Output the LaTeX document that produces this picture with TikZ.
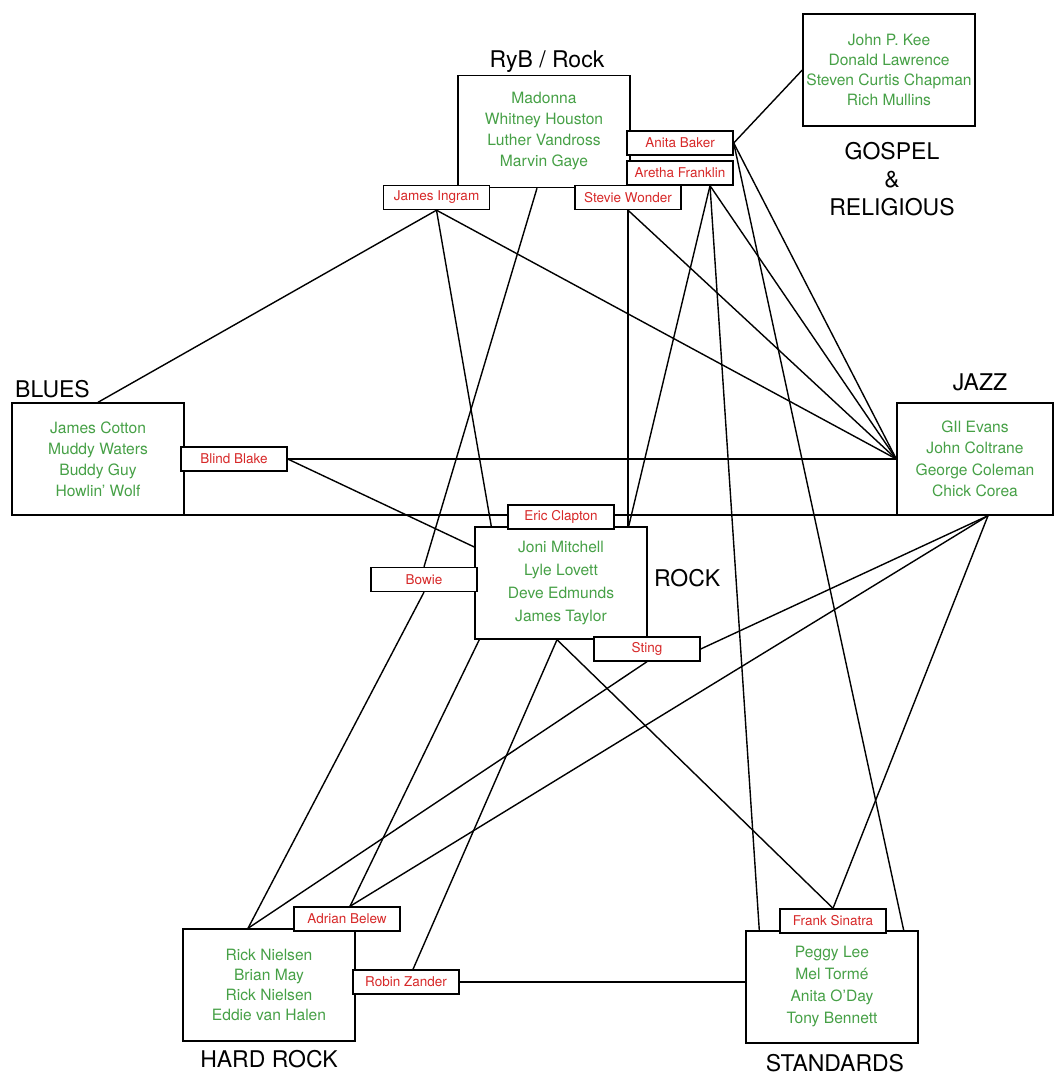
\documentclass[tikz,border=0pt]{standalone}
\usepackage{fontspec}
\setmainfont{TeX Gyre Heros}
\usetikzlibrary{calc}
\definecolor{grn}{RGB}{70,160,70}
\definecolor{rd}{RGB}{215,40,40}
\pgfdeclarelayer{bg}
\pgfsetlayers{bg,main}
\begin{document}
\begin{tikzpicture}[x=1pt,y=-1pt,
 genre/.style={draw, line width=1.4pt, minimum width=172pt, minimum height=112pt, inner sep=0pt, align=center, text=grn, font=\fontsize{15.6}{21}\selectfont},
 artist/.style={draw, fill=white, line width=1.4pt, minimum width=106pt, minimum height=24pt, inner sep=0pt, text=rd, font=\fontsize{13.5}{16}\selectfont},
 ttl/.style={font=\fontsize{23}{28}\selectfont, inner sep=0pt, align=center},
 link/.style={line width=1.4pt}]
\useasboundingbox (0,0) rectangle (1055,1076);
% genre boxes
\node[genre] (ryb) at (544,131.5) {Madonna\\Whitney Houston\\Luther Vandross\\Marvin Gaye};
\node[genre, font=\fontsize{15.6}{20}\selectfont] (gos) at (889,70) {John P. Kee\\Donald Lawrence\\Steven Curtis Chapman\\Rich Mullins};
\node[genre] (blues) at (98,459) {James Cotton\\Muddy Waters\\Buddy Guy\\Howlin' Wolf};
\node[genre, minimum width=156pt, font=\fontsize{15.6}{21.5}\selectfont] (jazz) at (975,459) {GIl Evans\\John Coltrane\\George Coleman\\Chick Corea};
\node[genre, font=\fontsize{15.6}{23}\selectfont] (rock) at (561,583) {Joni Mitchell\\Lyle Lovett\\Deve Edmunds\\James Taylor};
\node[genre, font=\fontsize{15.6}{20}\selectfont] (hr) at (269,985) {Rick Nielsen\\Brian May\\Rick Nielsen\\Eddie van Halen};
\node[genre, font=\fontsize{15.6}{22}\selectfont] (std) at (832,987) {Peggy Lee\\Mel Tormé\\Anita O'Day\\Tony Bennett};
% titles
\node[ttl, anchor=base] (tryb) at (547,67) {RyB / Rock};
\node[ttl] (tgos) at (892,179) {GOSPEL\\\&\\RELIGIOUS};
\node[ttl, anchor=base west] (tblues) at (15,397) {BLUES};
\node[ttl, anchor=base] (tjazz) at (980,390) {JAZZ};
\node[ttl, anchor=base west] (trock) at (654,586) {ROCK};
\node[ttl, anchor=base] (thr) at (269,1067) {HARD ROCK};
\node[ttl, anchor=base] (tstd) at (835,1071) {STANDARDS};
% artist boxes
\node[artist] (ab) at (680,143) {Anita Baker};
\node[artist] (af) at (680,173) {Aretha Franklin};
\node[artist] (ji) at (436.5,197.5) {James Ingram};
\node[artist] (sw) at (628,197.5) {Stevie Wonder};
\node[artist] (bb) at (234,459) {Blind Blake};
\node[artist] (ec) at (561,517) {Eric Clapton};
\node[artist] (bw) at (424,579.5) {Bowie};
\node[artist] (st) at (647,649) {Sting};
\node[artist] (abw) at (347,919) {Adrian Belew};
\node[artist] (rz) at (406,982) {Robin Zander};
\node[artist] (fs) at (833,921) {Frank Sinatra};
% connectors
\begin{pgfonlayer}{bg}
\draw[link] (ab.east) -- (gos.west);
\draw[link] (ab.east) -- (jazz.west);
\draw[link] (ab.east) -- ([xshift=-15pt]std.north east);
\draw[link] ([xshift=30pt]af.south) -- ([xshift=-19pt]rock.north east);
\draw[link] ([xshift=30pt]af.south) -- (jazz.west);
\draw[link] ([xshift=30pt]af.south) -- ([xshift=14pt]std.north west);
\draw[link] (sw.south) -- (sw.south |- rock.north);
\draw[link] (sw.south) -- (jazz.west);
\draw[link] (ji.south) -- (blues.north);
\draw[link] (ji.south) -- ([xshift=17pt]rock.north west);
\draw[link] (ji.south) -- (jazz.west);
\draw[link] ([xshift=-7pt]ryb.south) -- (bw.north);
\draw[link] (bw.south) -- ([xshift=-21pt]hr.north);
\draw[link] (bb.east) -- (jazz.west);
\draw[link] (bb.east) -- ([yshift=36pt]rock.west);
\draw[link, line width=2pt] ([yshift=1pt]blues.south east) -- ([yshift=1pt]blues.south east -| ec.west);
\draw[link, line width=2pt] ([yshift=1pt]ec.east |- jazz.south west) -- ([yshift=1pt]jazz.south west);
\draw[link] ([xshift=5pt]rock.south west) -- ([xshift=3pt]abw.north);
\draw[link] ([xshift=13pt]jazz.south) -- ([xshift=3pt]abw.north);
\draw[link] ([xshift=-4pt]rock.south) -- ([xshift=7pt]rz.north);
\draw[link] ([xshift=-4pt]rock.south) -- (fs.north);
\draw[link] ([xshift=13pt]jazz.south) -- (fs.north);
\draw[link] ([xshift=13pt]jazz.south) -- (st.east);
\draw[link] (st.south) -- ([xshift=-21pt]hr.north);
\draw[link] (rz.east) -- (rz.east -| std.west);
\end{pgfonlayer}
\end{tikzpicture}
\end{document}
